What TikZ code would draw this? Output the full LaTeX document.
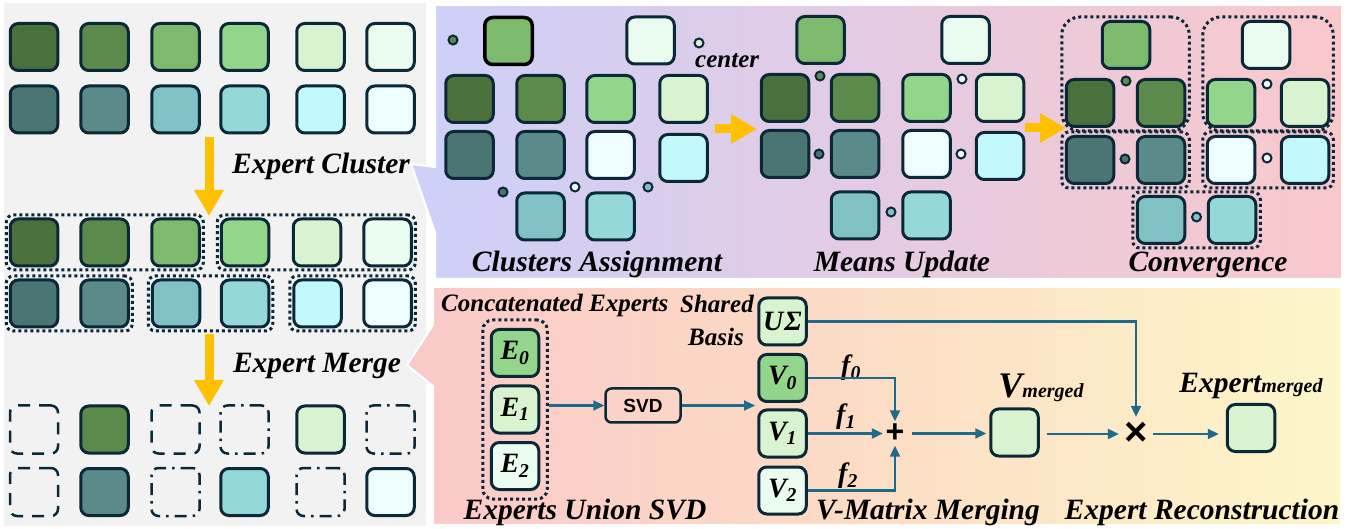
\documentclass[tikz,border=0pt]{standalone}
\usepackage{fontspec}
\setmainfont{Liberation Serif}
\newfontfamily\sansB{Liberation Sans}
\usetikzlibrary{arrows.meta,fit}

\definecolor{edge}{HTML}{0B2838}
\definecolor{gA}{HTML}{4A703C}
\definecolor{gB}{HTML}{5C8A4B}
\definecolor{gC}{HTML}{7DBA6E}
\definecolor{gD}{HTML}{93D58B}
\definecolor{gE}{HTML}{D9F2D0}
\definecolor{gF}{HTML}{EAFBEF}
\definecolor{tA}{HTML}{4A7572}
\definecolor{tB}{HTML}{5B8A8A}
\definecolor{tC}{HTML}{7FC1C5}
\definecolor{tD}{HTML}{95D8DA}
\definecolor{tE}{HTML}{C3F8FC}
\definecolor{tF}{HTML}{EEFEFE}
\definecolor{orng}{HTML}{FFC000}
\definecolor{flow}{HTML}{1D6A8C}
\definecolor{panelgray}{HTML}{F2F2F2}
\definecolor{lav}{HTML}{CDD0F9}
\definecolor{midA}{HTML}{E4CBE3}
\definecolor{pinkA}{HTML}{F9C8CB}
\definecolor{pinkB}{HTML}{FAC9C8}
\definecolor{peachB}{HTML}{FCDDC5}
\definecolor{yelB}{HTML}{FDF6C9}

\tikzset{
 sqbox/.style={draw=edge, line width=3pt, rounded corners=8pt, minimum width=47.5pt, minimum height=47pt, inner sep=0pt},
 dashbox/.style={draw=edge, line width=2.5pt, rounded corners=7pt, minimum width=48pt, minimum height=48pt, inner sep=0pt, dash pattern=on 12pt off 9pt},
 dotdashbox/.style={dashbox, dash pattern=on 12pt off 6pt on 2.5pt off 6pt},
 grpbox/.style={draw=edge, line width=3pt, dash pattern=on 3pt off 3pt, rounded corners=7pt, inner sep=2.5pt},
 cdot/.style={circle, draw=edge, line width=2pt, minimum size=9pt, inner sep=0pt},
 ttl/.style={font=\fontsize{29.5}{32}\selectfont\bfseries\itshape, inner sep=0pt},
 midtxt/.style={font=\fontsize{25}{34}\selectfont\bfseries\itshape, inner sep=0pt},
 boxlbl/.style={font=\fontsize{28}{30}\selectfont\bfseries\itshape},
 flbl/.style={font=\fontsize{28}{28}\selectfont\bfseries\itshape, inner sep=0pt},
 orarrow/.style={draw=orng, line width=9pt, -{Triangle[width=28pt,length=26pt]}},
 flowarrow/.style={draw=flow, line width=2.2pt, -{Triangle[width=10pt,length=11pt]}},
}

\begin{document}
\begin{tikzpicture}[x=1pt,y=-1pt]
\useasboundingbox (0,0) rectangle (1361,529);
\fill[white] (0,0) rectangle (1361,529);

% ---------- panels ----------
\fill[panelgray] (4,3) rectangle (426,526);
\path[left color=lav, right color=pinkA, middle color=midA, draw=white, line width=2pt]
  (435,5) -- (1342,5) -- (1342,279) -- (435,279) -- (435,232) -- (411,164) -- (435,167) -- cycle;
\path[left color=pinkB, right color=yelB, middle color=peachB, draw=white, line width=2pt]
  (433,287) -- (1341,287) -- (1341,525) -- (433,525) -- (433,386) -- (407,365) -- (433,325) -- cycle;

% ---------- left panel ----------
\foreach \x/\c [count=\i] in {34/gA,104.5/gB,175.5/gC,244.5/gD,320.5/gE,390.5/gF}
  \node[sqbox,fill=\c] (La\i) at (\x,47) {};
\foreach \x/\c [count=\i] in {34/tA,104.5/tB,175.5/tC,244.5/tD,320.5/tE,390.5/tF}
  \node[sqbox,fill=\c] (Lb\i) at (\x,109.5) {};
\foreach \x/\c [count=\i] in {34/gA,104.5/gB,175.5/gC,245/gD,317/gE,387.5/gF}
  \node[sqbox,fill=\c] (Lc\i) at (\x,242.5) {};
\foreach \x/\c [count=\i] in {34/tA,104.5/tB,176/tC,245/tD,317.5/tE,387.5/tF}
  \node[sqbox,fill=\c] (Ld\i) at (\x,303.5) {};
\node[grpbox, fit=(Lc1)(Lc3)] (Gc1) {};
\node[grpbox, fit=(Lc4)(Lc6)] (Gc2) {};
\node[grpbox, fit=(Ld1)(Ld2)] (Gd1) {};
\node[grpbox, fit=(Ld3)(Ld4)] (Gd2) {};
\node[grpbox, fit=(Ld5)(Ld6)] (Gd3) {};

\node[dashbox] (Le1) at (34,429.5) {};
\node[sqbox,fill=gB] (Le2) at (104.5,429.5) {};
\node[dashbox] (Le3) at (175.5,429.5) {};
\node[dotdashbox] (Le4) at (244.5,429.5) {};
\node[sqbox,fill=gE] (Le5) at (320.5,429.5) {};
\node[dotdashbox] (Le6) at (390.5,429.5) {};
\node[dashbox] (Lf1) at (34,492) {};
\node[sqbox,fill=tB] (Lf2) at (104.5,492) {};
\node[dotdashbox] (Lf3) at (175.5,492) {};
\node[sqbox,fill=tD] (Lf4) at (244.5,492) {};
\node[dotdashbox] (Lf5) at (320.5,492) {};
\node[sqbox,fill=tF] (Lf6) at (390.5,492) {};

\coordinate (a1s) at (209,137);
\coordinate (a1e) at (209,216);
\draw[orarrow] (a1s) -- (a1e);
\coordinate (a2s) at (209,334);
\coordinate (a2e) at (209,406);
\draw[orarrow] (a2s) -- (a2e);
\node[ttl, anchor=base] (tcl) at (321,174) {Expert Cluster};
\node[ttl, anchor=base] (tmg) at (317,373) {Expert Merge};

% ---------- clusters assignment ----------
\node[cdot, fill=gB] (cac1) at (453,40) {};
\node[sqbox, fill=gC, draw=black, line width=3.5pt] (cat1) at (508.5,41) {};
\node[sqbox, fill=gF] (cat2) at (650.5,40.5) {};
\node[cdot, fill=gE] (cac2) at (699,43) {};
\node[midtxt, anchor=base west] (lblcenter) at (695,68) {center};
\foreach \x/\c [count=\i] in {469.5/gA,540.5/gB,610.5/gD,683.5/gE}
  \node[sqbox,fill=\c] (caA\i) at (\x,99) {};
\foreach \x/\c [count=\i] in {469.5/tA,540.5/tB,610.5/tF}
  \node[sqbox,fill=\c] (caB\i) at (\x,155) {};
\node[sqbox,fill=tE] (caB4) at (683.5,158) {};
\node[cdot, fill=tA] (cac3) at (503,192) {};
\node[cdot, fill=tF] (cac4) at (575,187) {};
\node[cdot, fill=tC] (cac5) at (648,187) {};
\node[sqbox,fill=tC] (caC1) at (540.5,216.5) {};
\node[sqbox,fill=tD] (caC2) at (610.5,216.5) {};
\node[ttl, anchor=base] (tca) at (597,272) {Clusters Assignment};

\coordinate (b1s) at (715,129);
\coordinate (b1e) at (757,129);
\draw[orarrow] (b1s) -- (b1e);

% ---------- means update ----------
\node[sqbox,fill=gC] (mut1) at (820.5,40) {};
\node[sqbox,fill=gF] (mut2) at (965.5,40) {};
\node[cdot, fill=gB] (muc1) at (820,76) {};
\node[cdot, fill=gF] (muc2) at (962,79) {};
\foreach \x/\c [count=\i] in {785/gA,855/gB,926.5/gD,1000/gE}
  \node[sqbox,fill=\c] (muA\i) at (\x,98) {};
\foreach \x/\c [count=\i] in {785/tA,855/tB,926.5/tF}
  \node[sqbox,fill=\c] (muB\i) at (\x,154) {};
\node[sqbox,fill=tE] (muB4) at (1000,156) {};
\node[cdot, fill=tA] (muc3) at (819,154) {};
\node[cdot, fill=tF] (muc4) at (961,154) {};
\node[sqbox,fill=tC] (muC1) at (855,215.5) {};
\node[sqbox,fill=tD] (muC2) at (926.5,215.5) {};
\node[cdot, fill=tC] (muc5) at (891,212) {};
\node[ttl, anchor=base] (tmu) at (902,272) {Means Update};

\coordinate (b2s) at (1025,128);
\coordinate (b2e) at (1066,128);
\draw[orarrow] (b2s) -- (b2e);

% ---------- convergence ----------
\node[sqbox,fill=gC] (cvt1) at (1126,45) {};
\node[sqbox,fill=gF] (cvt2) at (1266,45) {};
\foreach \x/\c [count=\i] in {1090/gA,1161/gB,1231/gD,1305/gE}
  \node[sqbox,fill=\c] (cvA\i) at (\x,103) {};
\foreach \x/\c [count=\i] in {1090/tA,1161/tB,1231/tF,1305/tE}
  \node[sqbox,fill=\c] (cvB\i) at (\x,160) {};
\node[cdot, fill=gB] (cvc1) at (1126,81) {};
\node[cdot, fill=gF] (cvc2) at (1267,84) {};
\node[cdot, fill=tA] (cvc3) at (1125,159) {};
\node[cdot, fill=tF] (cvc4) at (1267,158) {};
\node[sqbox,fill=tC] (cvC1) at (1161,220) {};
\node[sqbox,fill=tD] (cvC2) at (1232,220) {};
\node[cdot, fill=tC] (cvc5) at (1196.5,217) {};
\node[grpbox, rounded corners=18pt, inner sep=3pt, fit=(cvt1)(cvA1)(cvA2)] (cvg1) {};
\node[grpbox, rounded corners=18pt, inner sep=3pt, fit=(cvt2)(cvA3)(cvA4)] (cvg2) {};
\node[grpbox, inner sep=3pt, fit=(cvB1)(cvB2)] (cvg3) {};
\node[grpbox, inner sep=3pt, fit=(cvB3)(cvB4)] (cvg4) {};
\node[grpbox, inner sep=3pt, fit=(cvC1)(cvC2)] (cvg5) {};
\node[ttl, anchor=base] (tcv) at (1208,272) {Convergence};

% ---------- bottom right ----------
\node[midtxt, anchor=base west] (lblconc) at (441,312) {Concatenated Experts};
\node[midtxt, anchor=base] (lblshared) at (717,313) {Shared};
\node[midtxt, anchor=base] (lblbasis) at (716,346) {Basis};

\node[sqbox, fill=gD, boxlbl] (e0) at (515,353) {E\textsubscript{0}};
\node[sqbox, fill=gE, boxlbl] (e1) at (515,409.5) {E\textsubscript{1}};
\node[sqbox, fill=gF, boxlbl] (e2) at (515,466) {E\textsubscript{2}};
\node[grpbox, inner xsep=7pt, inner ysep=8pt, rounded corners=10pt, fit=(e0)(e2)] (eg) {};

\node[draw=edge, line width=2.5pt, rounded corners=6pt, minimum width=75pt, minimum height=34pt,
      inner sep=0pt, font=\sansB\bfseries\fontsize{19}{19}\selectfont] (svd) at (643,405.5) {SVD};
\coordinate (svdend) at (755,405.5);

\node[sqbox, fill=gE, boxlbl] (us) at (782.5,321.5) {U\kern1pt Σ};
\node[sqbox, fill=gD, boxlbl] (v0) at (782.5,378) {V\textsubscript{0}};
\node[sqbox, fill=gE, boxlbl] (v1) at (782.5,433.5) {V\textsubscript{1}};
\node[sqbox, fill=gF, boxlbl] (v2) at (782.5,490.5) {V\textsubscript{2}};

\node[minimum size=24pt, inner sep=0pt, font=\sansB\bfseries\fontsize{32}{32}\selectfont] (plus) at (895,433.5) {+};
\node[minimum size=34pt, inner sep=0pt, font=\sansB\bfseries\fontsize{40}{40}\selectfont] (times) at (1136,434) {×};

\node[sqbox, fill=gE] (vm) at (1014.5,432.5) {};
\node[sqbox, fill=gE] (em) at (1251,428) {};
\node[anchor=base, inner sep=0pt] (vmlbl) at (1041,398)
  {\fontsize{36}{36}\selectfont\bfseries\itshape V{\fontsize{20}{20}\selectfont merged}};
\node[anchor=base, inner sep=0pt] (emlbl) at (1251,392)
  {\fontsize{29.5}{30}\selectfont\bfseries\itshape Expert{\fontsize{20}{20}\selectfont\raisebox{-1pt}{merged}}};

\node[flbl] (f0) at (851,368) {f\textsubscript{0}};
\node[flbl] (f1) at (846,417) {f\textsubscript{1}};
\node[flbl] (f2) at (848,476) {f\textsubscript{2}};

\draw[flowarrow] (eg.east |- svd.west) -- (svd.west);
\draw[flowarrow] (svd.east) -- (svdend);
\draw[flowarrow] (us.east) -- (times.north |- us.east) -- (times.north);
\draw[flowarrow] (v0.east) -- (plus.north |- v0.east) -- (plus.north);
\draw[flowarrow] (v1.east |- plus.west) -- (plus.west);
\draw[flowarrow] (v2.east) -- (plus.south |- v2.east) -- (plus.south);
\draw[flowarrow, shorten <=5pt, shorten >=3pt] (plus.east) -- (plus.east -| vm.west);
\draw[flowarrow, shorten <=7pt] (vm.east |- times.west) -- (times.west);
\draw[flowarrow, shorten >=7pt] (times.east) -- (times.east -| em.west);

\node[ttl, anchor=base] (tus) at (585,519) {Experts Union SVD};
\node[ttl, anchor=base] (tvm) at (928,519) {V-Matrix Merging};
\node[ttl, anchor=base] (ter) at (1202,519) {Expert Reconstruction};
\end{tikzpicture}
\end{document}
